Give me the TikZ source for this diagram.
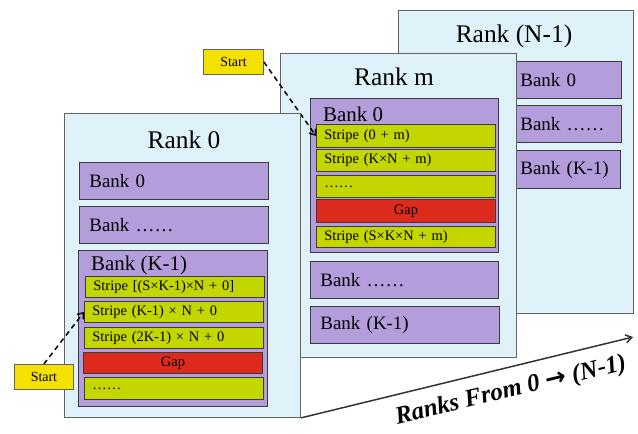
\documentclass[tikz,border=0pt]{standalone}
\usepackage{fontspec}
\setmainfont{Liberation Serif}
\newfontfamily\symfont{DejaVu Sans}
\usetikzlibrary{arrows.meta}
\definecolor{rankfill}{HTML}{DFF2FA}
\definecolor{bankfill}{HTML}{B39DDB}
\definecolor{stripefill}{HTML}{C4D600}
\definecolor{gapfill}{HTML}{DC2B1C}
\definecolor{startfill}{HTML}{F5E100}
\definecolor{edge}{HTML}{3C3C3C}
\begin{document}
\begin{tikzpicture}[x=1bp,y=-1bp,
  rankbox/.style={draw=edge!80, line width=0.9bp, fill=rankfill, anchor=north west, inner sep=0pt},
  banklbl/.style={draw=edge, line width=0.9bp, fill=bankfill, anchor=north west, inner xsep=10bp, inner ysep=0pt, align=left, font=\fontsize{19}{21}\selectfont},
  bankbig/.style={draw=edge, line width=0.9bp, fill=bankfill, anchor=north west, inner sep=0pt},
  stripebox/.style={draw=edge, line width=0.9bp, fill=stripefill, anchor=north west, inner xsep=8bp, inner ysep=0pt, align=left, font=\fontsize{14.5}{16}\selectfont},
  gapbox/.style={draw=edge, line width=0.9bp, fill=gapfill, anchor=north west, inner sep=0pt, align=center, font=\fontsize{14.5}{16}\selectfont},
  startbox/.style={draw=edge!80, line width=0.9bp, fill=startfill, anchor=north west, inner sep=0pt, font=\fontsize{14}{16}\selectfont},
  ranklbl/.style={font=\fontsize{25.5}{27}\selectfont, inner sep=0pt},
  biglbl/.style={font=\fontsize{21}{23}\selectfont, inner sep=0pt, anchor=west},
  dasharrow/.style={line width=1.5bp, dash pattern=on 5bp off 4bp, -{Straight Barb[length=5bp,width=8bp]}},
  rankarrow/.style={line width=1.5bp, black!80, -{Straight Barb[length=6bp,width=8bp]}}
]
\useasboundingbox (0,0) rectangle (638,434);

% Rank N-1
\node[rankbox, minimum width=235bp, minimum height=303bp] (rN) at (398,10) {};
\node[ranklbl] (rNlbl) at (514,36) {Rank (N-1)};
\node[banklbl, inner xsep=8bp, minimum width=109bp, minimum height=37bp, text width=93bp] (rNb0) at (512,61) {Bank 0};
\node[banklbl, inner xsep=8bp, minimum width=109bp, minimum height=37bp, text width=93bp] (rNb1) at (512,105) {Bank ……};
\node[banklbl, inner xsep=8bp, minimum width=108bp, minimum height=38bp, text width=92bp] (rNb2) at (512,150) {Bank (K-1)};

% Rank m
\node[rankbox, minimum width=236bp, minimum height=304bp] (rm) at (280,53) {};
\node[ranklbl] (rmlbl) at (394,77) {Rank m};
\node[bankbig, minimum width=188bp, minimum height=154bp] (rmb0) at (310,98) {};
\node[biglbl] (rmb0lbl) at (323,114) {Bank 0};
\node[stripebox, minimum width=179bp, minimum height=23bp, text width=163bp] (rms1) at (316,124) {Stripe (0 + m)};
\node[stripebox, minimum width=179bp, minimum height=22bp, text width=163bp] (rms2) at (316,149) {Stripe (K×N + m)};
\node[stripebox, minimum width=179bp, minimum height=22bp, text width=163bp] (rms3) at (316,175) {……};
\node[gapbox, minimum width=179bp, minimum height=23bp] (rmgap) at (316,199) {Gap};
\node[stripebox, minimum width=179bp, minimum height=21bp, text width=163bp] (rms4) at (316,226) {Stripe (S×K×N + m)};
\node[banklbl, minimum width=188bp, minimum height=37bp, text width=168bp] (rmb1) at (310,261) {Bank ……};
\node[banklbl, minimum width=189bp, minimum height=37bp, text width=169bp] (rmb2) at (310,306) {Bank (K-1)};

% Start (top)
\node[startbox, minimum width=60bp, minimum height=25bp] (st1) at (203,49) {Start};
\draw[dasharrow] (st1.east) -- (rms1.west);

% Rank 0
\node[rankbox, minimum width=236bp, minimum height=304bp] (r0) at (64,113) {};
\node[ranklbl] (r0lbl) at (184,140) {Rank 0};
\node[banklbl, minimum width=189bp, minimum height=37bp, text width=169bp] (r0b0) at (79,162) {Bank 0};
\node[banklbl, minimum width=189bp, minimum height=37bp, text width=169bp] (r0b1) at (79,206) {Bank ……};
\node[bankbig, minimum width=189bp, minimum height=156bp] (r0b2) at (78,250) {};
\node[biglbl] (r0b2lbl) at (91,265) {Bank (K-1)};
\node[stripebox, minimum width=179bp, minimum height=21bp, text width=163bp] (r0s1) at (85,276) {Stripe [(S×K-1)×N + 0]};
\node[stripebox, minimum width=179bp, minimum height=21bp, text width=163bp] (r0s2) at (84,301) {Stripe (K-1) × N + 0};
\node[stripebox, minimum width=179bp, minimum height=21bp, text width=163bp] (r0s3) at (84,327) {Stripe (2K-1) × N + 0};
\node[gapbox, minimum width=179bp, minimum height=21bp] (r0gap) at (83,352) {Gap};
\node[stripebox, minimum width=179bp, minimum height=22bp, text width=163bp] (r0s4) at (84,377) {……};

% Start (bottom)
\node[startbox, minimum width=59bp, minimum height=25bp] (st0) at (14,364) {Start};
\draw[dasharrow] (st0.north) -- (r0s2.west);

% Ranks arrow
\coordinate (aend) at (633,337);
\draw[rankarrow] (r0.south east) -- (aend);
\node[rotate=13.5, font=\fontsize{25}{27}\selectfont\bfseries\itshape, inner sep=0pt] (alabel) at (511,391) {Ranks From 0 {\symfont\bfseries\upshape →} (N-1)};
\end{tikzpicture}
\end{document}
